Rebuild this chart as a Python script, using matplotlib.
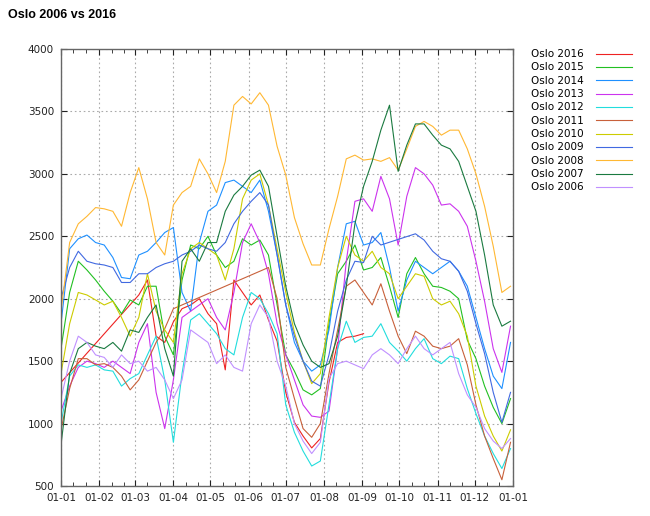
import matplotlib
matplotlib.use("Agg")
import matplotlib.pyplot as plt
import numpy as np

nan = np.nan

# day of year, one reading per week
days = list(range(0, 365, 7))

oslo_2016 = [1330, nan, nan, nan, nan, nan, nan, nan, nan, 2030, 2150, 1700, 1650, 1815, 1920, 1950,
             2000, 1880, 1800, 1430, 2150, 2050, 1950, 2030, 1830, 1660, 1250, 1010, 900, 805, 880,
             1330, 1650, 1690, 1700, 1720, nan, nan, nan, nan, nan, nan, nan, nan, nan, nan, nan, nan,
             nan, nan, nan, nan, nan]
oslo_2015 = [1600, 2050, 2300, 2230, 2150, 2060, 1980, 1880, 1990, 1950, 2100, 2100, 1700, 1550, 2150, 2430,
             2400, 2500, 2350, 2250, 2300, 2480, 2430, 2470, 2350, 1950, 1550, 1420, 1270, 1230, 1280,
             1800, 2200, 2300, 2430, 2230, 2250, 2330, 2100, 1850, 2200, 2330, 2200, 2100, 2090, 2060,
             2000, 1670, 1520, 1300, 1130, 1000, 1200]
oslo_2014 = [1800, 2400, 2480, 2510, 2450, 2430, 2330, 2170, 2160, 2350, 2380, 2450, 2530, 2570, 2050, 1900,
             2450, 2700, 2750, 2930, 2950, 2900, 2850, 2950, 2700, 2350, 1950, 1650, 1500, 1420, 1470,
             1750, 2250, 2600, 2620, 2430, 2450, 2530, 2250, 1900, 2150, 2300, 2250, 2200, 2250, 2300,
             2220, 2100, 1850, 1600, 1380, 1280, 1650]
oslo_2013 = [1100, 1300, 1450, 1500, 1480, 1450, 1500, 1450, 1400, 1650, 1800, 1250, 960, 1350, 1850, 1900,
             1950, 2000, 1850, 1750, 2050, 2450, 2600, 2450, 2200, 1800, 1550, 1350, 1150, 1060, 1050,
             1100, 1600, 2300, 2780, 2800, 2700, 2980, 2800, 2430, 2820, 3050, 3000, 2910, 2750, 2760,
             2700, 2580, 2300, 1980, 1600, 1410, 1780]
oslo_2012 = [1000, 1380, 1470, 1450, 1470, 1430, 1420, 1300, 1360, 1400, 1550, 1700, 1350, 850, 1400, 1830,
             1880, 1800, 1720, 1600, 1550, 1850, 2050, 2000, 1880, 1720, 1150, 930, 780, 660, 700,
             1150, 1600, 1820, 1650, 1690, 1700, 1800, 1650, 1580, 1500, 1600, 1680, 1520, 1480, 1540,
             1520, 1280, 1080, 900, 760, 640, 800]
oslo_2011 = [950, 1280, 1520, 1520, 1470, 1480, 1450, 1380, 1270, 1350, 1500, 1650, 1760, 1920, nan, nan,
             nan, nan, nan, nan, nan, nan, nan, nan, 2250, 2000, 1450, 1200, 960, 890, 1000,
             1400, 1750, 2100, 2150, 2050, 1950, 2120, 1900, 1700, 1560, 1740, 1700, 1620, 1600, 1620,
             1680, 1470, 1150, 900, 720, 550, 850]
oslo_2010 = [1400, 1800, 2050, 2030, 1990, 1950, 1980, 1850, 1700, 1850, 2200, 1900, 1750, 1650, 2200, 2400,
             2450, 2400, 2350, 2150, 2400, 2800, 2950, 3000, 2750, 2400, 2050, 1730, 1500, 1320, 1400,
             1850, 2250, 2500, 2350, 2300, 2380, 2250, 2200, 2000, 2100, 2200, 2180, 2000, 1950, 1980,
             1880, 1700, 1300, 1060, 900, 780, 950]
oslo_2009 = [2000, 2250, 2380, 2300, 2280, 2270, 2250, 2130, 2130, 2200, 2200, 2250, 2280, 2300, 2350, 2380,
             2430, 2400, 2380, 2450, 2600, 2700, 2780, 2850, 2750, 2350, 1950, 1700, 1500, 1340, 1300,
             1550, 1900, 2150, 2300, 2290, 2500, 2430, nan, nan, nan, 2520, 2470, 2380, 2320, 2300,
             2220, 2060, 1800, 1560, 1250, 1010, 1250]
oslo_2008 = [1900, 2450, 2600, 2660, 2730, 2720, 2700, 2580, 2850, 3050, 2800, 2450, 2350, 2750, 2850, 2900,
             3120, 3000, 2850, 3100, 3550, 3620, 3560, 3650, 3550, 3220, 2990, 2650, 2440, 2270, 2270,
             2560, 2820, 3120, 3150, 3110, 3120, 3100, 3130, 3030, 3200, 3380, 3420, 3380, 3310, 3350,
             3350, 3200, 3000, 2740, 2420, 2050, 2100]
oslo_2007 = [830, 1400, 1600, 1650, 1620, 1600, 1650, 1580, 1750, 1730, 1850, 1950, 1600, 1380, 2300, 2400,
             2300, 2450, 2450, 2700, 2830, 2900, 2990, 3030, 2900, 2500, 2100, 1800, 1630, 1500, 1450,
             1480, 1700, 2100, 2600, 2900, 3100, 3350, 3550, 3020, 3230, 3400, 3400, 3310, 3230, 3200,
             3100, 2900, 2700, 2350, 1950, 1780, 1820]
oslo_2006 = [1200, 1500, 1700, 1650, 1550, 1530, 1450, 1550, 1480, 1500, 1420, 1450, 1350, 1200, 1350, 1750,
             1700, 1650, 1480, 1550, 1450, 1420, 1800, 1950, 1850, 1500, 1300, 1000, 860, 760, 850,
             1360, 1480, 1500, 1470, 1440, 1550, 1600, 1550, 1480, 1600, 1700, 1600, 1550, 1600, 1650,
             1400, 1230, 1130, 960, 860, 800, 880]

labels = ["Oslo 2016", "Oslo 2015", "Oslo 2014", "Oslo 2013", "Oslo 2012", "Oslo 2011",
          "Oslo 2010", "Oslo 2009", "Oslo 2008", "Oslo 2007", "Oslo 2006"]
series = [oslo_2016, oslo_2015, oslo_2014, oslo_2013, oslo_2012, oslo_2011,
          oslo_2010, oslo_2009, oslo_2008, oslo_2007, oslo_2006]
colors = ["#ee2222", "#22c022", "#1e90ff", "#cc33ee", "#22dddd", "#c8603a",
          "#cccc00", "#4169e1", "#ffb833", "#1a7a40", "#c090ff"]

month_starts = [0, 31, 60, 91, 121, 152, 182, 213, 244, 274, 305, 335, 366]
month_labels = ["01-01", "01-02", "01-03", "01-04", "01-05", "01-06", "01-07",
                "01-08", "01-09", "01-10", "01-11", "01-12", "01-01"]

fig = plt.figure(figsize=(6.5, 5.16), dpi=100)
ax = fig.add_axes([61 / 650, 1 - 486 / 516, (513 - 61) / 650, (486 - 49) / 516])

x = np.array(days)
# plot newest last so order matches the legend from the top
for vals, lab, col in zip(series, labels, colors):
    v = np.array(vals, dtype=float)
    ok = ~np.isnan(v)
    ax.plot(x[ok], v[ok], color=col, lw=0.8, label=lab)

ax.set_xlim(0, 366)
ax.set_ylim(500, 4000)
ax.set_xticks(month_starts)
ax.set_xticklabels(month_labels)
ax.set_yticks(range(500, 4001, 500))
minor = [m + k for m in month_starts[:-1] for k in (10, 20)]
ax.set_xticks(minor, minor=True)
ax.grid(True, which="major", color="#aaaaaa", linestyle=(0, (1.5, 2.5)), lw=0.8)
ax.tick_params(axis="both", which="both", direction="in", top=True, right=True,
               labelsize=7.5, colors="#222222", length=4, pad=5)
ax.tick_params(axis="x", which="minor", length=3)
for s in ax.spines.values():
    s.set_color("#666666")
    s.set_linewidth(1)

fig.text(8 / 650, 1 - 15 / 516, "Oslo 2006 vs 2016", fontsize=9, fontweight="bold",
         family="Liberation Sans", va="center", ha="left")

fig.legend(loc="upper left", bbox_to_anchor=(527 / 650, 1 - 45 / 516), frameon=False,
           markerfirst=False, fontsize=7.5, labelspacing=0.32, handlelength=3.4,
           handletextpad=1.2, borderaxespad=0)

fig.savefig("out.png", dpi=100)
